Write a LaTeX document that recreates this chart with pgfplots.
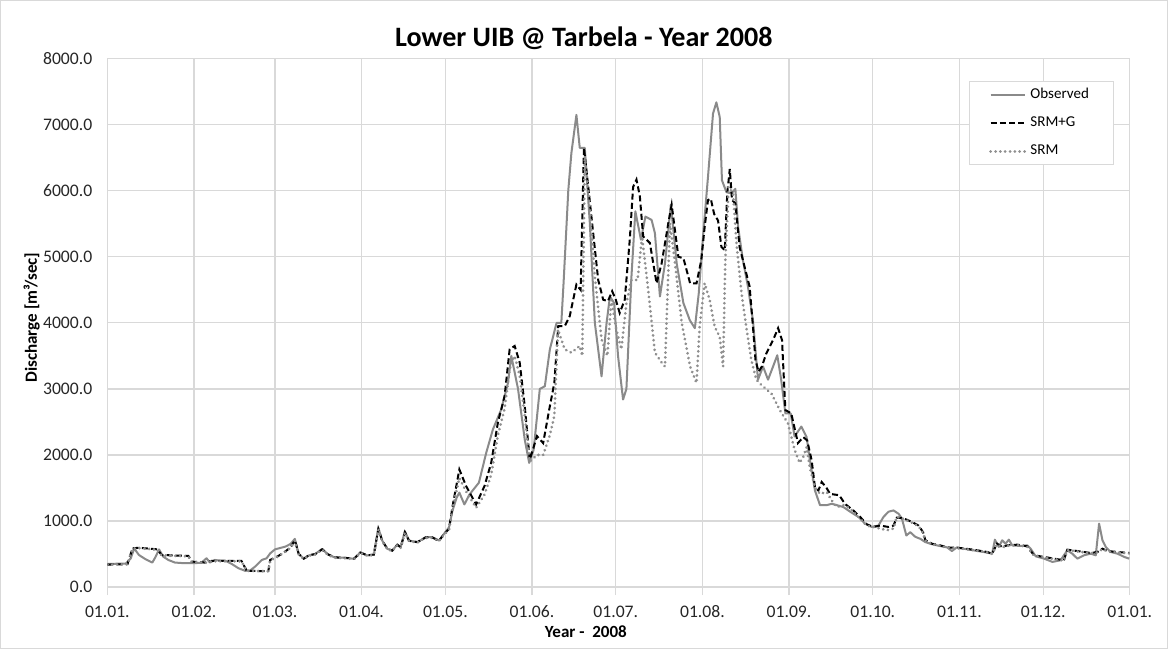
\documentclass[border=0pt]{standalone}
\usepackage{fontspec}
\setmainfont{Carlito}
\usepackage{pgfplots}
\pgfplotsset{compat=1.18}

\definecolor{obsgray}{HTML}{8A8A8A}
\definecolor{srmgray}{HTML}{8F8F8F}
\definecolor{gridgray}{HTML}{D9D9D9}

\begin{document}
\begin{tikzpicture}
\begin{axis}[
  scale only axis,
  width=510pt, height=263.5pt,
  xmin=0, xmax=366, ymin=0, ymax=8000,
  xtick={0,31,60,91,121,152,182,213,244,274,305,335,366},
  xticklabels={01.01.,01.02.,01.03.,01.04.,01.05.,01.06.,01.07.,01.08.,01.09.,01.10.,01.11.,01.12.,01.01.},
  ytick={0,1000,...,8000},
  yticklabel style={/pgf/number format/.cd, fixed, fixed zerofill, precision=1, 1000 sep={}, assume math mode=true},
  ticklabel style={font=\fontsize{8.8}{10}\selectfont, color=black!85},
  xticklabel style={text height=1.6ex, text depth=0.2ex},
  grid=major,
  major grid style={gridgray, line width=0.6pt},
  axis x line=bottom, axis y line=left,
  x axis line style={gridgray, line width=0.7pt, -},
  y axis line style={draw=none},
  xtick style={gridgray, line width=0.6pt},
  tick align=outside, major tick length=4pt,
  ytick style={draw=none},
  title={\bfseries Lower UIB @ Tarbela - Year 2008},
  title style={at={(axis description cs:0.466,1.016)}, anchor=center, yshift=0pt, font=\fontsize{14}{16}\selectfont},
  xlabel={\bfseries Year -\ \ 2008},
  xlabel style={at={(axis description cs:0.468,-0.085)}, anchor=center, font=\fontsize{8.5}{10}\selectfont},
  ylabel={\bfseries Discharge [m³/sec]},
  ylabel style={at={(axis description cs:-0.074,0.51)}, anchor=center, rotate=0, font=\fontsize{8.5}{10}\selectfont},
  legend style={at={(axis description cs:0.984,0.958)}, anchor=north east, draw=gridgray,
    font=\fontsize{7.5}{9}\selectfont, row sep=3.5pt, inner xsep=10pt, inner ysep=1.5pt},
  legend cell align=left,
]

% Observed
\addplot[obsgray, line width=1pt, line join=round] coordinates {
(0,350) (6.6,355) (8.4,435) (9.6,585) (11.3,485) (13.7,420) (16.1,370) (17.3,460)
(18.5,570) (20,460) (21.8,410) (24.2,370) (27.8,360) (31.4,360) (33.7,370) (35.5,435)
(36.7,370) (38.5,410) (40.3,400) (42.1,400) (44.5,350) (46.9,285) (49.3,245) (51.1,250)
(52.9,310) (55.3,410) (57,435) (58.3,510) (60,570) (63.8,613) (65.6,653) (67.1,729)
(68.5,503) (70.3,427) (72.1,477) (74.5,503) (76.9,578) (78.7,503) (81.1,452) (85.3,442)
(88.3,427) (90.6,528) (93,477) (95.4,492) (97,894) (98.4,703) (100.2,578) (102,553)
(103.8,643) (105,603) (106.5,844) (108,703) (111,678) (113.9,754) (116.3,754) (118.7,703)
(120.5,804) (122.3,905) (123.5,1150) (125,1350) (126,1430) (127.8,1250) (129.6,1400)
(133,1580) (135.6,2030) (138,2385) (141,2690) (143.4,3090) (144.6,3500) (147,3000)
(149.4,2235) (151,1880) (152.6,2080) (154.8,3000) (156.6,3040) (158.4,3600) (160.8,4000)
(162.5,4000) (163.3,4600) (165,6010) (166.1,6570) (167.9,7150) (169.1,6650) (170.9,6650)
(172.7,5510) (174.5,4000) (176.9,3190) (178.7,4000) (179.9,4400) (181.4,4300) (182.8,3500)
(184.6,2840) (185.8,3000) (187.6,4700) (189,5690) (191,5260) (192.6,5610) (194.8,5560)
(196,5360) (197.8,4400) (199.6,4900) (201.7,5790) (203.8,4900) (206.2,4300) (208.5,4040)
(210.3,3920) (211.7,4450) (213.2,5300) (215,6210) (216.8,7170) (218,7340) (219.2,7120)
(220,6160) (221.6,5980) (223.4,5960) (224.8,6030) (225.8,5450) (227.5,4950) (229.3,4550)
(231.1,4040) (232.9,3140) (234.7,3340) (236.5,3140) (238.3,3340) (239.8,3510) (241.2,3140)
(242.7,2630) (244.6,2630) (246,2280) (248.4,2430) (250.3,2270) (251.5,1920) (253.3,1460)
(255.1,1240) (257.5,1240) (259.3,1260) (261.1,1240) (263.5,1210) (265.9,1140) (268.9,1060)
(271.2,960) (273.6,910) (276,930) (277.8,1060) (279.6,1140) (281.4,1160) (283.2,1110)
(284.4,1040) (286,780) (287.4,830) (289.2,760) (291,730) (292.8,680) (294.6,655) (297,630)
(300.6,600) (302.3,545) (304.1,600) (306.5,580) (310.1,555) (313.7,530) (316.7,505)
(317.7,717) (319.1,606) (320.3,707) (321.5,657) (322.7,717) (323.9,631) (326.9,621)
(329.3,631) (330.5,580) (332.3,465) (335.3,430) (338.3,380) (341.2,405) (343.6,555)
(345.4,505) (347.2,430) (349.6,480) (352,505) (353.8,480) (355,960) (356.2,707)
(357.4,606) (359.2,530) (361.6,505) (364,455) (365.8,430)
};

% SRM+G
\addplot[black, line width=1pt, dash pattern=on 3pt off 1.6pt] coordinates {
(0,340) (7.2,345) (9,585) (11.3,595) (17.9,570) (19.4,485) (29,470) (30.2,385)
(34.9,370) (37.3,395) (48,395) (49.9,245) (57.6,240) (58.3,410) (61.2,470) (63.6,535)
(65.6,600) (67.1,710) (68.5,500) (70.3,430) (72.1,480) (74.5,500) (76.9,570) (78.7,500)
(81.1,450) (85.3,440) (88.3,430) (90.6,520) (93,480) (95.4,490) (97,880) (98.4,700)
(100.2,580) (102,550) (103.8,640) (105,600) (106.5,830) (108,700) (111,680) (113.9,750)
(116.3,750) (118.7,700) (120.5,800) (122.3,880) (123.6,1230) (126,1780) (128.4,1530)
(132,1250) (135,1530) (137.4,1880) (139.8,2490) (142.2,2890) (144,3600) (145.8,3650)
(147.6,3400) (149.4,2740) (151.2,1930) (153.8,2285) (156,2180) (158.4,2740) (160,3090)
(161.4,3950) (163.7,3950) (165.5,4100) (167.9,4580) (169.4,4500) (170.6,6650) (172,6120)
(173.9,5360) (175.7,4650) (177.5,4350) (179.2,4330) (180.7,4480) (182,4350) (183.4,4150)
(185.2,4350) (187,5260) (188.2,6060) (189.4,6170) (190.6,5920) (191.8,5310) (194.2,5210)
(196.6,4600) (198.4,4900) (200.8,5510) (202,5790) (204.4,5000) (206.2,4980) (208.6,4600)
(210.9,4600) (212.6,4950) (213.8,5450) (215,5860) (216,5880) (217.2,5650) (218.6,5550)
(219.8,5150) (221,5100) (221.9,5960) (222.8,6330) (223.6,5860) (224.8,5810) (226.3,5150)
(228.1,4850) (229.9,4550) (231.1,3940) (232,3440) (233.1,3260) (234.3,3340) (235.9,3540)
(238.3,3740) (240.1,3920) (241.5,3740) (242.7,2680) (244.8,2630) (247.2,2180) (249.1,2270)
(250.5,2220) (252.1,1920) (253.3,1510) (254.5,1460) (255.7,1590) (257.3,1510) (258.7,1410)
(262,1390) (264,1260) (267,1160) (269.5,1060) (271.8,950) (274.2,910) (276.6,930)
(279.6,910) (281.4,930) (282.6,1050) (285,1040) (288,985) (290.4,930) (292,830)
(292.8,710) (295.2,655) (298.2,630) (300.6,600) (305.3,590) (310,565) (315,530)
(316.7,505) (318.5,657) (320.3,606) (322.1,631) (325.7,641) (329.3,616) (331.7,480)
(335.3,455) (338.8,430) (342.4,405) (343.6,565) (347.2,545) (352,515) (354.4,530)
(356.2,580) (358,545) (361.6,530) (365.8,515)
};

% SRM
\addplot[srmgray, line width=1.5pt, line cap=round, dash pattern=on 0.01pt off 2.4pt] coordinates {
(0,340) (7.2,345) (9,580) (11.3,590) (17.9,565) (19.4,480) (29,465) (30.2,380)
(34.9,365) (37.3,390) (48,390) (49.9,245) (57.6,240) (58.3,405) (61.2,465) (63.6,530)
(65.6,595) (67.1,700) (68.5,495) (70.3,425) (72.1,475) (74.5,495) (76.9,565) (78.7,495)
(81.1,445) (85.3,435) (88.3,425) (90.6,515) (93,475) (95.4,485) (97,870) (98.4,695)
(100.2,575) (102,545) (103.8,635) (105,595) (106.5,820) (108,695) (111,675) (113.9,745)
(116.3,745) (118.7,695) (120.5,790) (122.3,870) (123.6,1200) (126,1650) (128.4,1450)
(132,1200) (135,1400) (137.4,1700) (139.8,2300) (142.2,2700) (144,3300) (145.8,3500)
(147.6,3200) (149.4,2600) (151.2,1900) (153.8,2000) (156,2000) (158.4,2300) (160,2590)
(161.3,3900) (163.7,3600) (166.1,3550) (169.1,3650) (170,3500) (170.9,6520) (172.7,5760)
(174.5,4700) (176.9,3750) (179,3500) (180.4,4350) (182.2,3900) (184,3600) (185.8,4300)
(187.6,4650) (189.8,4650) (191.4,5310) (193.6,4500) (196,3550) (198.4,3400) (199.6,3340)
(201.4,5510) (203.2,4900) (205.6,4000) (208.6,3340) (210.9,3090) (212,3940) (213.8,4600)
(215.6,4350) (217.4,3940) (219.2,3790) (220.4,3340) (221.2,4950) (222.4,6060) (224,5960)
(225.2,5200) (227,4450) (228.7,3940) (230.5,3440) (232.3,3140) (234.1,3060) (237.7,2930)
(240.7,2680) (243.6,2480) (246,2080) (247.8,1880) (249.1,1970) (250.3,2120) (251.4,1820)
(253.3,1510) (255.1,1410) (257.5,1440) (259.3,1310) (261.1,1210) (263.5,1240) (265.9,1190)
(268.9,1060) (271.8,930) (274.2,910) (276.6,885) (279,860) (281.4,885) (282.6,1060)
(285,1030) (288,975) (290.4,920) (292,820) (292.8,705) (295.2,650) (298.2,625)
(300.6,595) (305.3,585) (310,560) (315,525) (316.7,500) (318.5,650) (320.3,600)
(322.1,625) (325.7,635) (329.3,610) (331.7,475) (335.3,450) (338.8,425) (342.4,400)
(343.6,560) (347.2,540) (352,510) (354.4,525) (356.2,575) (358,540) (361.6,525) (365.8,510)
};

\legend{Observed, SRM+G, SRM}
\end{axis}
\path[draw=gridgray, line width=0.6pt]
  ([xshift=-53.25pt, yshift=-30.5pt]current axis.south west) rectangle ++(582pt,323pt);
\end{tikzpicture}
\end{document}
